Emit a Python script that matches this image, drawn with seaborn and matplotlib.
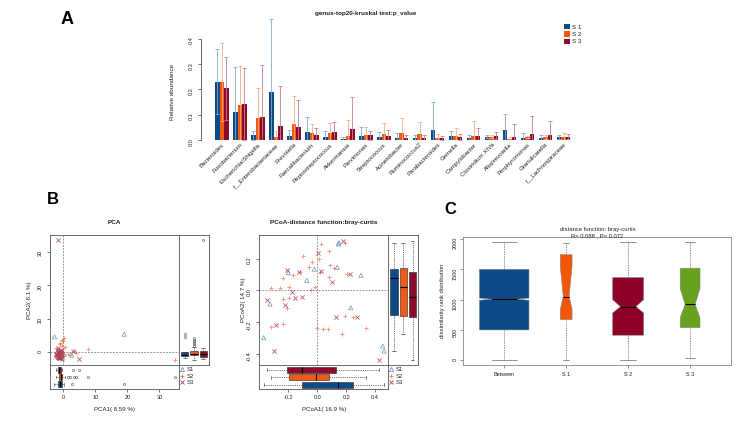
import numpy as np
import pandas as pd
import matplotlib
matplotlib.use("Agg")
import matplotlib.pyplot as plt
import seaborn as sns
from matplotlib.patches import Patch
from matplotlib.lines import Line2D

# ---------------- Data ----------------
genera = ["Bacteroides", "Fusobacterium", "Escherichia/Shigella", "f__Enterobacteriaceae",
          "Prevotella", "Faecalibacterium", "Peptostreptococcus", "Akkermansia", "Parvimonas",
          "Streptococcus", "Acinetobacter", "Ruminococcus2", "Parabacteroides", "Gemella",
          "Campylobacter", "Clostridium XIVa", "Alloprevotella", "Porphyromonas",
          "Granulicatella", "f__Lachnospiraceae"]
groups = ["S 1", "S 2", "S 3"]
mean_s1 = [0.229, 0.111, 0.018, 0.188, 0.017, 0.033, 0.013, 0.004, 0.017, 0.013,
           0.009, 0.009, 0.038, 0.015, 0.007, 0.012, 0.038, 0.007, 0.008, 0.011]
mean_s2 = [0.229, 0.137, 0.085, 0.010, 0.064, 0.027, 0.027, 0.016, 0.018, 0.022,
           0.026, 0.022, 0.008, 0.017, 0.017, 0.013, 0.004, 0.013, 0.012, 0.012]
mean_s3 = [0.203, 0.142, 0.089, 0.056, 0.051, 0.020, 0.033, 0.045, 0.018, 0.015,
           0.008, 0.008, 0.008, 0.012, 0.017, 0.017, 0.012, 0.024, 0.018, 0.012]
sd_s1 = [0.128, 0.178, 0.019, 0.288, 0.022, 0.056, 0.022, 0.007, 0.034, 0.017,
         0.020, 0.011, 0.112, 0.019, 0.014, 0.006, 0.066, 0.022, 0.010, 0.007]
sd_s2 = [0.155, 0.153, 0.120, 0.027, 0.109, 0.036, 0.040, 0.063, 0.032, 0.044,
         0.060, 0.048, 0.014, 0.032, 0.057, 0.005, 0.008, 0.004, 0.009, 0.014]
sd_s3 = [0.125, 0.143, 0.205, 0.156, 0.106, 0.027, 0.038, 0.124, 0.019, 0.023,
         0.012, 0.010, 0.009, 0.013, 0.029, 0.015, 0.051, 0.070, 0.056, 0.010]

grp_short = ["S1", "S2", "S3"]
# PCA scores
pca1_s1 = [-2.8, 19.0, 2.6, -1.5, -1.0, -0.5, -1.8, 0.3, -1.2, -2.0, -0.8, -1.5]
pca2_s1 = [4.5, 5.3, -1.0, -0.4, -1.2, -0.2, -1.5, -0.8, -1.8, -0.9, 0.0, -1.7]
pca1_s2 = [34.7, 0.3, -0.2, 7.8, 2.0, 3.4, 1.5, -1.0, -0.5, 0.5, -2.0, -1.5, 4.0, -1.2, -0.8,
           -1.6, -0.3, -1.9, -1.1, -0.6, -1.4, -0.9, -1.7, -0.4, -1.3, -0.7, -1.0, -1.8, -0.2,
           -1.5, -0.8, -1.2, -0.5, -2.2, -1.1, -0.6, -1.4, -0.9, 0.0, -1.6, -0.3, -1.0, -0.7,
           -1.3, -0.4]
pca2_s2 = [-2.5, 4.0, 3.2, 0.8, -1.0, 0.2, -0.8, 2.5, 1.8, 1.5, 1.0, 0.3, -0.5, -0.3, -1.2,
           -0.9, -0.5, -1.4, -0.7, -1.1, 0.0, -0.2, -1.3, -0.6, -0.9, -1.0, -0.4, -1.2, -0.8,
           -1.5, -0.3, -0.6, -1.1, -1.7, 2.2, -0.2, -1.0, -0.7, -1.3, -0.4, -0.8, -1.6, 0.1,
           -0.5, 3.6]
pca1_s3 = [-1.6, 5.0, 3.1, -1.8, -2.0, -1.2, -0.8, -1.5, -2.2, -0.5, -1.0, -1.9, -1.3, -0.7,
           -1.7, -2.4, -0.9, -1.1, -1.4, -0.6, -2.1, -1.6, -0.3, -1.8, -1.2]
pca2_s3 = [33.8, -2.2, 0.1, -1.5, 0.5, -1.9, 0.3, -1.2, -0.6, -1.7, 0.2, -1.0, -2.0, -0.3,
           1.2, -0.8, -1.4, -0.1, -1.8, 0.4, -1.1, -0.5, -2.3, 0.0, -0.9]
# PCoA scores
pcoa1_s1 = [0.145, 0.15, 0.138, -0.021, -0.2, -0.073, 0.302, -0.327, 0.231, -0.371, 0.452, 0.462]
pcoa2_s1 = [0.292, 0.300, 0.145, 0.134, 0.111, 0.063, 0.095, -0.086, -0.11, -0.299, -0.351, -0.383]
pcoa1_s2 = [0.025, 0.08, -0.1, 0.014, -0.035, -0.058, 0.086, 0.114, 0.02, -0.12, -0.166, -0.24,
            0.08, 0.203, -0.32, -0.258, -0.194, -0.046, -0.016, -0.24, -0.196, -0.212, -0.322,
            -0.24, -0.004, 0.037, 0.076, 0.168, 0.194, 0.25, 0.337, 0.192]
pcoa2_s2 = [0.292, 0.249, 0.216, 0.197, 0.176, 0.149, 0.159, 0.139, 0.117, 0.117, 0.096, 0.075,
            0.082, 0.105, 0.012, 0.012, 0.018, 0.001, 0.022, -0.057, -0.05, -0.114, -0.229,
            -0.215, -0.24, -0.246, -0.246, -0.278, -0.162, -0.166, -0.24, 0.3]
pcoa1_s3 = [0.18, -0.212, 0.026, -0.127, 0.1, 0.226, -0.177, -0.108, -0.152, -0.346, -0.223,
            0.129, 0.276, -0.286, -0.297, 0.429, 0.007]
pcoa2_s3 = [0.313, 0.128, 0.122, 0.114, 0.05, 0.1, -0.009, -0.04, -0.05, -0.061, -0.092,
            -0.17, -0.17, -0.219, -0.383, -0.44, 0.237]

# Panel C: ANOSIM rank distributions (summary statistics)
c_labels = ["Between", "S 1", "S 2", "S 3"]
c_whislo = [5, 10, 5, 45]
c_q1 = [500, 670, 413, 538]
c_med = [1007, 1050, 885, 925]
c_q3 = [1500, 1742, 1364, 1518]
c_whishi = [1950, 1930, 1950, 1950]
c_cilo = [990, 843, 780, 700]
c_cihi = [1025, 1545, 1000, 1180]
c_widths = [0.8, 0.19, 0.5, 0.32]

# ---------------- Style ----------------
sns.set_style("white")
plt.rcParams["font.family"] = ["Liberation Sans", "DejaVu Sans"]
plt.rcParams["axes.linewidth"] = 0.6

W, H = 753, 424
fig = plt.figure(figsize=(W / 100, H / 100), dpi=100)
fig.patch.set_facecolor("white")

def px_axes(l, t, r, b):
    return fig.add_axes([l / W, 1 - b / H, (r - l) / W, (b - t) / H])

def ftext(x, y, s, **kw):
    kw.setdefault("ha", "center")
    kw.setdefault("va", "center")
    kw.setdefault("color", "#222222")
    return fig.text(x / W, 1 - y / H, s, **kw)

TXT = "#222222"
bar_cols = ["#0E4A86", "#F25A14", "#8C0A2C"]
err_cols = ["#86A8CC", "#F6AE86", "#C77E95"]
pt_cols = ["#4F82B4", "#F07A50", "#B23A5C"]
box_cols = {"S1": "#0E4A86", "S2": "#F25A14", "S3": "#8C0A2C"}
c_cols = ["#0B4A84", "#F25606", "#8E0027", "#68A11E"]

# ---------------- Panel A ----------------
axA = px_axes(200.8, 18.2, 584.7, 140)
dfA = pd.DataFrame({
    "genus": genera * 3,
    "group": [g for g in groups for _ in genera],
    "value": mean_s1 + mean_s2 + mean_s3,
})
sns.barplot(data=dfA, x="genus", y="value", hue="group", order=genera, hue_order=groups,
            palette=bar_cols, errorbar=None, width=0.75, saturation=1, linewidth=0,
            legend=False, ax=axA)
for cont, sd, col in zip(axA.containers, [sd_s1, sd_s2, sd_s3], err_cols):
    for bar, s in zip(cont, sd):
        xc = bar.get_x() + bar.get_width() / 2
        axA.errorbar(xc, bar.get_height(), yerr=s, fmt="none", ecolor=col,
                     elinewidth=0.6, capsize=1.2, capthick=0.6)
axA.set_xlim(-1.164, 20.164)
axA.set_ylim(0, 0.48)
for sp in ["top", "right", "bottom"]:
    axA.spines[sp].set_visible(False)
axA.spines["left"].set_bounds(0, 0.4)
axA.spines["left"].set_color("#333333")
axA.spines["left"].set_linewidth(0.5)
axA.set_yticks([0, 0.1, 0.2, 0.3, 0.4])
axA.set_yticklabels(["0.0", "0.1", "0.2", "0.3", "0.4"])
axA.tick_params(axis="y", labelsize=4, length=2, width=0.5, color="#333333",
                labelcolor=TXT, pad=3, labelrotation=90, left=True)
axA.set_xticks(range(len(genera)))
axA.set_xticklabels(genera, rotation=45, ha="right", va="top", rotation_mode="anchor",
                    fontsize=4.4, color=TXT)
axA.tick_params(axis="x", length=0, pad=1.5)
axA.set_xlabel("")
axA.set_ylabel("")
axA.patch.set_alpha(0)
ftext(173, 92, "Relative abundance", rotation=90, fontsize=4.6)
ftext(366, 13, "genus-top20-kruskal test:p_value", fontsize=4.6, fontweight="bold")
handles = [Patch(facecolor=c, edgecolor="none") for c in bar_cols]
axA.legend(handles, groups, loc="upper left", bbox_to_anchor=(564 / W, 1 - 24 / H),
           bbox_transform=fig.transFigure, frameon=False, fontsize=4.5,
           handlelength=0.9, handleheight=0.9, handletextpad=0.35, labelspacing=0.25,
           borderpad=0, borderaxespad=0, labelcolor=TXT)
ftext(67, 20, "A", fontsize=13, fontweight="bold", color="black")

# ---------------- Panels B ----------------
def frame(ax):
    for sp in ax.spines.values():
        sp.set_visible(True)
        sp.set_color("#555555")
        sp.set_linewidth(0.6)

def marginal_box(ax, df, val, orient):
    kws = dict(data=df, hue="group", palette=box_cols, hue_order=grp_short, legend=False,
               ax=ax, width=0.8, saturation=1, linecolor="#333333", linewidth=0.45,
               fliersize=1.6, whis=1.5,
               whiskerprops=dict(linestyle=(0, (2, 1.5))),
               medianprops=dict(color="black", linewidth=0.8),
               flierprops=dict(marker="o", markerfacecolor="none",
                               markeredgecolor="#555555", markeredgewidth=0.4))
    if orient == "x":
        sns.boxplot(x="group", y=val, order=grp_short, **kws)
        ax.set_xlim(-0.62, 2.62)
    else:
        sns.boxplot(y="group", x=val, order=grp_short[::-1], **kws)
        ax.set_ylim(2.62, -0.62)
    ax.set_xlabel("")
    ax.set_ylabel("")

def ord_panel(box, xs, ys, xlim, ylim, xticks, yticks, xtl, ytl, title, xlab, ylab,
              ylab_x, leg_x):
    l, t, r, b, mr, bb = box
    ax = px_axes(l, t, r, b)
    axr = px_axes(r, t, mr, b)
    axb = px_axes(l, b, r, bb)
    markers = ["^", "+", "x"]
    for g, xv, yv, m, c in zip(grp_short, xs, ys, markers, pt_cols):
        if m == "^":
            sns.scatterplot(x=xv, y=yv, ax=ax, marker=m, s=9, facecolor="none",
                            edgecolor=c, linewidth=0.5, alpha=0.85)
        else:
            sns.scatterplot(x=xv, y=yv, ax=ax, marker=m, s=9, color=c,
                            linewidth=0.6, alpha=0.85)
    ax.axvline(0, color="#666666", lw=0.5, ls=(0, (2.5, 2)))
    ax.axhline(0, color="#666666", lw=0.5, ls=(0, (2.5, 2)))
    ax.set_xlim(*xlim)
    ax.set_ylim(*ylim)
    dfp = pd.DataFrame({
        "group": [g for g, xv in zip(grp_short, xs) for _ in xv],
        "c1": [v for xv in xs for v in xv],
        "c2": [v for yv in ys for v in yv],
    })
    marginal_box(axr, dfp, "c2", "x")
    axr.set_ylim(*ylim)
    marginal_box(axb, dfp, "c1", "y")
    axb.set_xlim(*xlim)
    for a in (ax, axr, axb):
        frame(a)
        a.set_xticks([])
        a.set_yticks([])
    ax.set_yticks(yticks)
    ax.set_yticklabels(ytl)
    ax.tick_params(axis="y", left=True, labelsize=4, length=2, width=0.5, color="#444444",
                   labelcolor=TXT, pad=3.5, labelrotation=90)
    axb.set_xticks(xticks)
    axb.set_xticklabels(xtl)
    axb.tick_params(axis="x", bottom=True, labelsize=4, length=2, width=0.5,
                    color="#444444", labelcolor=TXT, pad=2)
    ftext((l + r) / 2, 222, title, fontsize=4.6, fontweight="bold")
    ftext((l + r) / 2, 410, xlab, fontsize=4.4)
    ftext(ylab_x, (t + b) / 2, ylab, rotation=90, fontsize=4.4)
    hs = [Line2D([], [], marker="^", ls="none", markerfacecolor="none",
                 markeredgecolor=pt_cols[0], markersize=3, markeredgewidth=0.5),
          Line2D([], [], marker="+", ls="none", color=pt_cols[1], markersize=3,
                 markeredgewidth=0.6),
          Line2D([], [], marker="x", ls="none", color=pt_cols[2], markersize=2.6,
                 markeredgewidth=0.6)]
    ax.legend(hs, grp_short, loc="upper left", bbox_to_anchor=(leg_x / W, 1 - 367 / H),
              bbox_transform=fig.transFigure, frameon=False, fontsize=4.2,
              handlelength=0.8, handletextpad=0.3, labelspacing=0.25, borderpad=0,
              borderaxespad=0, labelcolor=TXT)

ord_panel((50, 235, 179, 365, 209, 389),
          [pca1_s1, pca1_s2, pca1_s3], [pca2_s1, pca2_s2, pca2_s3],
          (-4.2, 36.1), (-4.0, 35.2), [0, 10, 20, 30], [0, 10, 20, 30],
          ["0", "10", "20", "30"], ["0", "10", "20", "30"],
          "PCA", "PCA1( 8.59 %)", "PCA2( 6.1 %)", 29, 180)
ord_panel((259.3, 235, 388.3, 365, 418.3, 389.3),
          [pcoa1_s1, pcoa1_s2, pcoa1_s3], [pcoa2_s1, pcoa2_s2, pcoa2_s3],
          (-0.401, 0.491), (-0.471, 0.349), [-0.2, 0.0, 0.2, 0.4], [-0.4, -0.2, 0.0, 0.2],
          ["-0.2", "0.0", "0.2", "0.4"], ["-0.4", "-0.2", "0.0", "0.2"],
          "PCoA-distance function:bray-curtis", "PCoA1( 16.9 %)", "PCoA2( 14.7 %)", 243, 389)
ftext(53, 199, "B", fontsize=12, fontweight="bold", color="black")

# ---------------- Panel C ----------------
axC = px_axes(463.3, 237.3, 731, 365)
stats = [dict(label=lab, whislo=a, q1=b, med=c, q3=d, whishi=e, cilo=f, cihi=g, fliers=[])
         for lab, a, b, c, d, e, f, g in zip(c_labels, c_whislo, c_q1, c_med, c_q3,
                                            c_whishi, c_cilo, c_cihi)]
art = axC.bxp(stats, positions=[1, 2, 3, 4], widths=c_widths, shownotches=True,
              patch_artist=True, showfliers=False, manage_ticks=False,
              capwidths=[w * 0.5 for w in c_widths],
              boxprops=dict(edgecolor="#888888", linewidth=0.4),
              medianprops=dict(color="black", linewidth=0.8),
              whiskerprops=dict(color="#666666", linewidth=0.5, linestyle=(0, (2, 1.5))),
              capprops=dict(color="#666666", linewidth=0.5))
for patch, col in zip(art["boxes"], c_cols):
    patch.set_facecolor(col)
axC.set_xlim(0.34, 4.66)
axC.set_ylim(-78, 2028)
frame(axC)
for sp in axC.spines.values():
    sp.set_color("#888888")
axC.set_xticks([1, 2, 3, 4])
axC.set_xticklabels(c_labels)
axC.set_yticks([0, 500, 1000, 1500, 2000])
axC.tick_params(axis="x", bottom=True, labelsize=4, length=2, width=0.5, color="#666666",
                labelcolor=TXT, pad=3)
axC.tick_params(axis="y", left=True, labelsize=4, length=2, width=0.5, color="#666666",
                labelcolor=TXT, pad=2, labelrotation=90)
ftext(442.7, 301, "dissimilarity rank distribution", rotation=90, fontsize=4.2)
ftext(597.5, 229.3, "distance function: bray-curtis", fontsize=4.2)
ftext(597.5, 235.8, "R= 0.088 , P= 0.072", fontsize=4.2)
ftext(450, 210, "C", fontsize=12, fontweight="bold", color="black")

fig.savefig("out.png", dpi=100, facecolor="white")
